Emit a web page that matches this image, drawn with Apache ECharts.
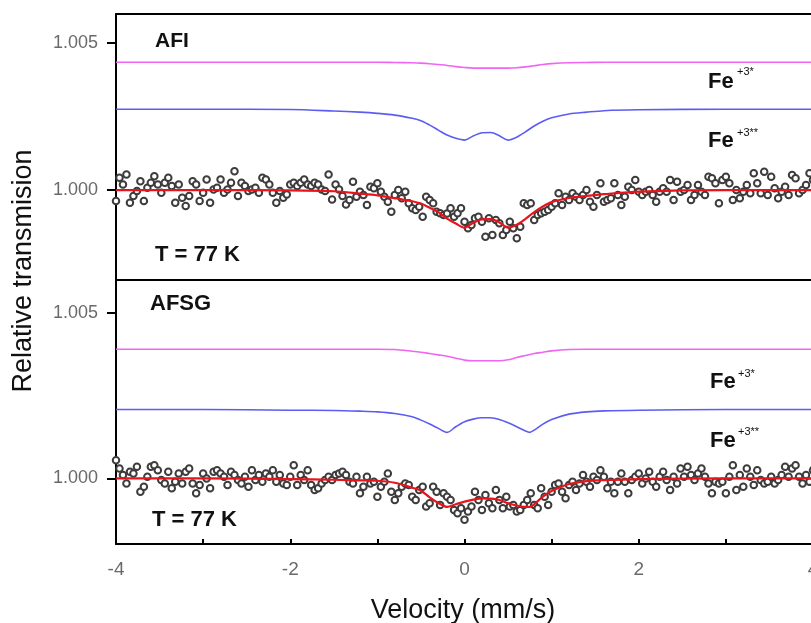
<!DOCTYPE html>
<html>
<head>
<meta charset="utf-8">
<script src="https://cdn.jsdelivr.net/npm/echarts@6/dist/echarts.min.js"></script>
<style>
html,body{margin:0;padding:0;background:#fff;}
#c{width:811px;height:623px;}
</style>
</head>
<body>
<div id="c"></div>
<script>
// Velocity channels (mm/s)
var velocity = [-4,-3.96,-3.92,-3.88,-3.84,-3.8,-3.76,-3.72,-3.68,-3.64,-3.6,-3.56,-3.52,-3.48,-3.44,-3.4,-3.36,-3.32,-3.28,-3.24,-3.2,-3.16,-3.12,-3.08,-3.04,-3,-2.96,-2.92,-2.88,-2.84,-2.8,-2.76,-2.72,-2.68,-2.64,-2.6,-2.56,-2.52,-2.48,-2.44,-2.4,-2.36,-2.32,-2.28,-2.24,-2.2,-2.16,-2.12,-2.08,-2.04,-2,-1.96,-1.92,-1.88,-1.84,-1.8,-1.76,-1.72,-1.68,-1.64,-1.6,-1.56,-1.52,-1.48,-1.44,-1.4,-1.36,
-1.32,-1.28,-1.24,-1.2,-1.16,-1.12,-1.08,-1.04,-1,-0.96,-0.92,-0.88,-0.84,-0.8,-0.76,-0.72,-0.68,-0.64,-0.6,-0.56,-0.52,-0.48,-0.44,-0.4,-0.36,-0.32,-0.28,-0.24,-0.2,-0.16,-0.12,-0.08,-0.04,0,0.04,0.08,0.12,0.16,0.2,0.24,0.28,0.32,0.36,0.4,0.44,0.48,0.52,0.56,0.6,0.64,0.68,0.72,0.76,0.8,0.84,0.88,0.92,0.96,1,1.04,1.08,1.12,1.16,1.2,1.24,1.28,1.32,1.36,
1.4,1.44,1.48,1.52,1.56,1.6,1.64,1.68,1.72,1.76,1.8,1.84,1.88,1.92,1.96,2,2.04,2.08,2.12,2.16,2.2,2.24,2.28,2.32,2.36,2.4,2.44,2.48,2.52,2.56,2.6,2.64,2.68,2.72,2.76,2.8,2.84,2.88,2.92,2.96,3,3.04,3.08,3.12,3.16,3.2,3.24,3.28,3.32,3.36,3.4,3.44,3.48,3.52,3.56,3.6,3.64,3.68,3.72,3.76,3.8,3.84,3.88,3.92,3.96,4];

// AFI measured transmission
var afiData = [0.99963,1.00042,1.00019,1.00053,0.99957,0.9998,0.99997,1.0003,0.99963,1.00008,1.00025,1.00047,1.00019,0.99991,1.00025,1.00042,1.00014,0.99957,1.00019,0.99974,0.99946,0.9998,1.0003,1.00019,0.99963,0.99991,1.00036,0.99957,1.00002,1.00008,1.00036,0.99991,1.00002,1.00025,1.00064,0.9998,1.00025,1.00014,0.99997,1.00002,1.00008,0.99991,1.00042,1.00036,1.00019,0.99991,0.99957,0.99997,0.99974,0.99985,1.00019,1.00025,1.00014,1.00025,1.00036,1.00019,1.00014,1.00025,1.00019,1.00002,0.99997,1.00053,0.99968,1.00019,1.00002,0.9998,0.99951,
0.99966,1.00028,0.99977,0.99994,0.99983,0.99949,1.00011,1.00006,1.00023,0.99994,0.99977,0.9996,0.99926,0.99983,1.0,0.99972,0.99994,0.99955,0.99938,0.99932,0.99943,0.99909,0.99977,0.99966,0.99955,0.99926,0.99921,0.99915,0.9992,0.99938,0.99909,0.99921,0.99938,0.99892,0.9987,0.99881,0.99904,0.99909,0.99892,0.99841,0.99904,0.99847,0.99898,0.99887,0.99847,0.99864,0.99892,0.9987,0.99836,0.99875,0.99955,0.99949,0.99955,0.99898,0.99915,0.99921,0.99926,0.99932,0.99943,0.99955,0.99989,0.99949,0.99977,0.99966,0.99989,0.99977,0.99966,0.99983,
1.0,0.9996,0.99943,0.99983,1.00023,0.9996,0.99966,0.99972,1.00023,0.99983,0.99949,0.99977,1.00011,1.0,1.00034,0.99994,0.99983,0.99994,1.0,0.99983,0.9996,0.99994,1.00006,0.99994,1.00034,0.99966,1.00028,0.99994,1.0,1.00017,0.99966,0.99983,1.00017,0.99994,0.99983,1.00045,1.0004,1.00023,0.99955,1.00034,1.00045,1.00023,0.99966,1.0,0.99972,0.99994,1.00017,0.99989,1.00057,1.00023,0.99989,1.00062,0.99983,1.00045,1.00006,0.99972,0.99994,1.00011,0.99983,1.00051,1.0004,0.99989,1.0,1.00017,1.00057,1.00034];

// AFSG measured transmission
var afsgData = [1.00055,1.0003,1.0001,0.99985,1.0002,1.00015,1.00035,0.9996,0.99975,1.00005,1.00035,1.0004,1.00025,0.99995,0.99985,1.0002,0.9997,0.9999,1.00015,0.99985,1.0002,1.0003,0.99985,0.99955,0.9998,1.00015,1.0,0.9997,1.0002,1.00025,1.00015,1.00005,0.9998,1.0002,1.0001,0.99995,0.99985,1.00005,0.99975,1.00025,0.99995,1.0001,0.9999,1.00015,1.00005,1.00025,0.9999,1.0001,0.99985,0.9998,1.00005,1.0004,0.9998,1.0001,0.99995,1.00025,0.9998,0.99965,0.9997,0.99985,0.99995,1.00005,0.99995,1.0001,1.00015,1.0002,1.0001,
0.9999,0.99985,1.00005,0.99955,0.99975,1.00005,0.99985,0.9999,0.99945,0.99975,0.9999,1.00015,0.9996,0.99935,0.99955,0.99975,0.99985,0.9998,0.99945,0.99935,0.99965,0.99975,0.99915,0.99925,0.99975,0.9996,0.9992,0.99955,0.99945,0.99935,0.99905,0.99895,0.9991,0.99875,0.999,0.99915,0.9996,0.99935,0.99905,0.9995,0.99925,0.9991,0.99965,0.99935,0.9991,0.99945,0.99915,0.9992,0.999,0.99905,0.9992,0.99935,0.99955,0.9992,0.9991,0.9997,0.99945,0.9992,0.9996,0.9998,0.99985,0.9996,0.9994,0.9998,0.9999,0.99965,0.99985,1.0001,
0.9999,0.99975,1.00005,0.99995,1.00025,1.00005,0.9997,0.9999,0.99955,0.9999,1.00015,0.9999,0.99955,0.99995,1.00005,1.00015,0.99985,1.0,1.0002,0.9999,0.99975,1.00005,1.0002,0.99995,0.99965,1.00005,0.99985,1.0003,1.00005,1.00035,1.0001,0.99995,1.00015,1.0003,1.00005,0.99985,0.99955,0.9999,0.99985,0.9999,0.99955,1.00005,1.0004,0.99965,1.0001,0.99975,1.0003,1.00005,0.9998,1.00025,0.99995,0.99985,0.9999,1.00005,0.99985,0.99995,1.0001,1.00035,1.00005,1.0003,1.0004,1.00005,0.99985,1.0001,0.9999,1.00025];

// Fit curves, AFI
var afiFitV = [-4,-3,-2,-1.5,-1.2,-1,-0.8,-0.6,-0.5,-0.4,-0.3,-0.2,-0.1,0,0.1,0.2,0.3,0.4,0.5,0.6,0.7,0.8,0.9,1,1.2,1.4,1.6,2,3,4];
var afiFe3a = [1.00435,1.00435,1.00435,1.00435,1.00435,1.00435,1.00434,1.00433,1.00432,1.0043,1.00427,1.00424,1.0042,1.00417,1.00415,1.00415,1.00415,1.00415,1.00415,1.00416,1.00419,1.00423,1.00427,1.0043,1.00433,1.00434,1.00435,1.00435,1.00435,1.00435];
var afiFe3b = [1.00275,1.00275,1.00274,1.00269,1.00265,1.00261,1.00255,1.00244,1.00236,1.00221,1.00204,1.00187,1.00176,1.0017,1.00184,1.00195,1.00196,1.00185,1.0017,1.0018,1.00198,1.00218,1.00234,1.00246,1.00259,1.00265,1.0027,1.00273,1.00275,1.00275];
var afiFit = [1.0,1.0,0.99999,0.99996,0.99988,0.99982,0.99972,0.99962,0.99954,0.9994,0.99925,0.99903,0.99886,0.99872,0.99889,0.999,0.99901,0.9989,0.99872,0.99882,0.99902,0.99925,0.99944,0.99959,0.99973,0.9998,0.99986,0.99995,1.0,1.0];

// Fit curves, AFSG
var afsgFitV = [-4,-3,-2,-1.5,-1.2,-1,-0.8,-0.6,-0.5,-0.4,-0.3,-0.2,-0.1,0,0.1,0.2,0.3,0.4,0.5,0.6,0.7,0.75,0.8,0.9,1,1.2,1.4,1.6,2,3,4];
var afsgFe3a = [1.0039,1.0039,1.0039,1.0039,1.0039,1.0039,1.00389,1.00384,1.00381,1.00377,1.00373,1.00369,1.00363,1.00357,1.00355,1.00355,1.00355,1.00355,1.00358,1.00365,1.00371,1.00374,1.00377,1.00381,1.00385,1.00389,1.0039,1.0039,1.0039,1.0039,1.0039];
var afsgFe3b = [1.00208,1.00208,1.00206,1.00205,1.00203,1.00201,1.00196,1.00186,1.00176,1.00164,1.00151,1.00139,1.00156,1.00171,1.00179,1.00183,1.00183,1.00178,1.00168,1.00156,1.00143,1.00139,1.00146,1.00164,1.00178,1.00194,1.00201,1.00204,1.00206,1.00208,1.00208];
var afsgFit = [1.0,1.0,0.99998,0.99996,0.99994,0.99993,0.99987,0.99972,0.99963,0.99943,0.99926,0.99914,0.99922,0.9993,0.99936,0.9994,0.99939,0.99935,0.99925,0.99918,0.99914,0.99914,0.99922,0.99945,0.99962,0.99983,0.99992,0.99995,0.99998,1.0,1.0];

var yTicks = [1.000, 1.005];
var xTickLabels = [-4, -2, 0, 2, 4];

function pairs(xs, ys) {
  var out = [];
  for (var i = 0; i < Math.min(xs.length, ys.length); i++) out.push([xs[i], ys[i]]);
  return out;
}

var FONT = '"Liberation Sans", Arial, sans-serif';
var chart = echarts.init(document.getElementById('c'), null, {renderer: 'canvas'});

var yAxisCommon = function (gi, mn, mx) {
  return {
    type: 'value', gridIndex: gi, min: mn, max: mx, position: 'left',
    splitLine: {show: false},
    axisLine: {show: true, onZero: false, lineStyle: {color: '#000', width: 2}},
    axisTick: {show: true, inside: false, length: 9, customValues: yTicks, lineStyle: {color: '#000', width: 2}},
    axisLabel: {show: true, customValues: yTicks, margin: 18, color: '#6a6a6a', fontSize: 18, fontFamily: FONT,
      formatter: function (v) { return v.toFixed(3); }}
  };
};

var lineSeries = function (xi, yi, xs, ys, color, width) {
  return {
    type: 'line', xAxisIndex: xi, yAxisIndex: yi, data: pairs(xs, ys),
    showSymbol: false, symbol: 'none', smooth: 0.3,
    lineStyle: {color: color, width: width}, z: 3, silent: true
  };
};

var scatterSeries = function (xi, yi, ys) {
  return {
    type: 'scatter', xAxisIndex: xi, yAxisIndex: yi, data: pairs(velocity, ys),
    symbol: 'emptyCircle', symbolSize: 6.5,
    itemStyle: {color: '#3c3c3c', borderColor: '#3c3c3c', borderWidth: 1.3, opacity: 1},
    z: 2, silent: true
  };
};

var option = {
  backgroundColor: '#fff',
  animation: false,
  grid: [
    {left: 116, top: 14, right: -2, height: 266, containLabel: false, outerBoundsMode: 'none'},
    {left: 116, top: 280, right: -2, height: 264, containLabel: false, outerBoundsMode: 'none'}
  ],
  xAxis: [
    {type: 'value', gridIndex: 0, min: -4, max: 4, interval: 1, position: 'bottom',
      splitLine: {show: false}, axisLabel: {show: false}, axisTick: {show: false},
      axisLine: {show: true, onZero: false, lineStyle: {color: '#000', width: 2}}},
    {type: 'value', gridIndex: 0, min: -4, max: 4, interval: 1, position: 'top',
      splitLine: {show: false}, axisLabel: {show: false}, axisTick: {show: false},
      axisLine: {show: true, onZero: false, lineStyle: {color: '#000', width: 2}}},
    {type: 'value', gridIndex: 1, min: -4, max: 4, interval: 1, position: 'bottom',
      splitLine: {show: false},
      axisLine: {show: true, onZero: false, lineStyle: {color: '#000', width: 2}},
      axisTick: {show: true, inside: true, length: 5, lineStyle: {color: '#000', width: 2}},
      axisLabel: {show: true, margin: 16, color: '#6a6a6a', fontSize: 19, fontFamily: FONT,
        formatter: function (v) { return xTickLabels.indexOf(v) >= 0 ? String(v) : ''; }}}
  ],
  yAxis: [
    yAxisCommon(0, 0.99694, 1.00599),
    yAxisCommon(1, 0.99802, 1.00599)
  ],
  series: [
    scatterSeries(0, 0, afiData),
    lineSeries(0, 0, afiFitV, afiFe3a, '#f066f0', 1.6),
    lineSeries(0, 0, afiFitV, afiFe3b, '#5c5cf5', 1.6),
    lineSeries(0, 0, afiFitV, afiFit, '#e8141c', 2.2),
    scatterSeries(2, 1, afsgData),
    lineSeries(2, 1, afsgFitV, afsgFe3a, '#f066f0', 1.6),
    lineSeries(2, 1, afsgFitV, afsgFe3b, '#5c5cf5', 1.6),
    lineSeries(2, 1, afsgFitV, afsgFit, '#e8141c', 2.2)
  ],
  graphic: [
    {type: 'text', left: 155, top: 31, style: {text: 'AFI', font: 'bold 21px ' + FONT, fill: '#111'}},
    {type: 'text', left: 155, top: 244, style: {text: 'T = 77 K', font: 'bold 22px ' + FONT, fill: '#111'}},
    {type: 'text', left: 150, top: 293, style: {text: 'AFSG', font: 'bold 22px ' + FONT, fill: '#111'}},
    {type: 'text', left: 152, top: 509, style: {text: 'T = 77 K', font: 'bold 22px ' + FONT, fill: '#111'}},

    {type: 'text', left: 708, top: 71, style: {text: 'Fe', font: 'bold 22px ' + FONT, fill: '#111'}},
    {type: 'text', left: 737, top: 66, style: {text: '+3*', font: '11px ' + FONT, fill: '#111'}},
    {type: 'text', left: 708, top: 130, style: {text: 'Fe', font: 'bold 22px ' + FONT, fill: '#111'}},
    {type: 'text', left: 737, top: 127, style: {text: '+3**', font: '11px ' + FONT, fill: '#111'}},
    {type: 'text', left: 710, top: 371, style: {text: 'Fe', font: 'bold 22px ' + FONT, fill: '#111'}},
    {type: 'text', left: 738, top: 368, style: {text: '+3*', font: '11px ' + FONT, fill: '#111'}},
    {type: 'text', left: 710, top: 430, style: {text: 'Fe', font: 'bold 22px ' + FONT, fill: '#111'}},
    {type: 'text', left: 738, top: 426, style: {text: '+3**', font: '11px ' + FONT, fill: '#111'}},

    {type: 'text', x: 24, y: 271, rotation: Math.PI / 2,
      style: {text: 'Relative transmision', font: '27px ' + FONT, fill: '#111', align: 'center', verticalAlign: 'middle'}},
    {type: 'text', x: 463, y: 611,
      style: {text: 'Velocity (mm/s)', font: '27px ' + FONT, fill: '#111', align: 'center', verticalAlign: 'middle'}}
  ]
};
chart.setOption(option);
</script>
</body>
</html>
